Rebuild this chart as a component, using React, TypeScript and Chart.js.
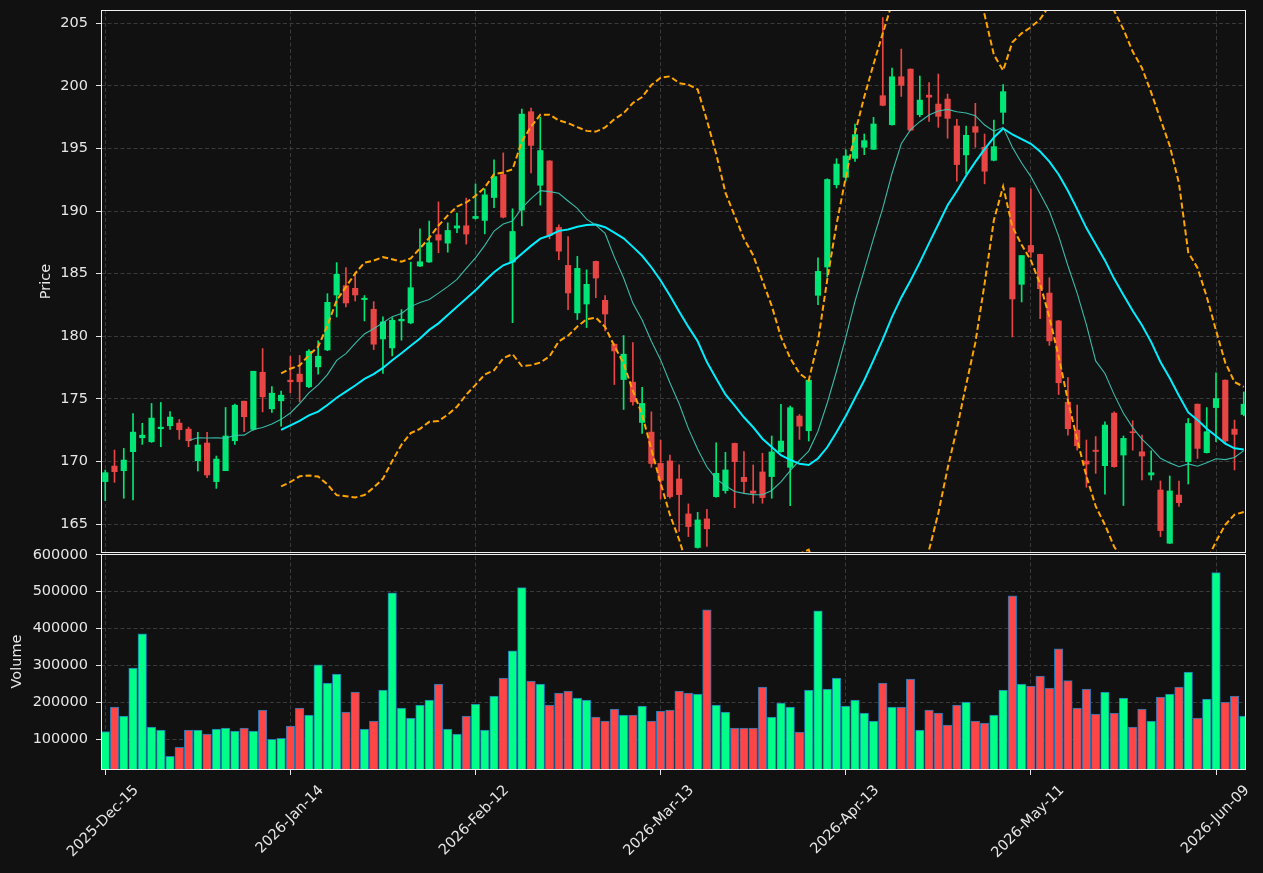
import React, { useEffect, useRef } from 'react';
import { Chart, registerables } from 'chart.js';

Chart.register(...registerables);

const tickIndices = [0, 20, 40, 60, 80, 100, 120];
const tickLabels = ['2025-Dec-15', '2026-Jan-14', '2026-Feb-12', '2026-Mar-13', '2026-Apr-13', '2026-May-11', '2026-Jun-09'];
const priceTicks = [165, 170, 175, 180, 185, 190, 195, 200, 205];
const volumeTicks = [100000, 200000, 300000, 400000, 500000, 600000];

const opens = [
  168.40, 169.64, 169.27, 170.79, 171.90, 171.58, 172.62, 172.86, 173.07, 172.59,
  170.07, 171.48, 168.40, 169.27, 171.66, 174.82, 172.57, 177.13, 174.21, 174.85,
  176.50, 176.98, 175.97, 177.56, 178.91, 183.30, 184.04, 183.83, 182.93, 182.16,
  179.79, 179.07, 181.23, 181.07, 185.61, 185.93, 188.11, 187.44, 188.64, 188.82,
  189.41, 189.25, 191.08, 192.91, 185.93, 190.08, 197.93, 192.06, 194.00, 188.69,
  185.66, 181.87, 182.58, 185.98, 182.87, 179.37, 176.55, 176.34, 173.12, 172.35,
  169.85, 170.05, 168.61, 165.82, 163.14, 165.42, 167.20, 167.68, 171.45, 168.74,
  167.65, 169.17, 168.80, 170.79, 169.54, 173.63, 172.46, 183.27, 185.53, 192.10,
  192.70, 194.21, 195.09, 194.93, 199.21, 196.89, 200.72, 201.33, 197.69, 199.25,
  198.54, 198.94, 196.79, 194.48, 196.74, 195.09, 194.05, 197.88, 191.85, 184.15,
  187.25, 186.54, 183.45, 181.23, 174.74, 172.51, 170.04, 170.91, 169.67, 173.87,
  170.52, 172.38, 170.78, 168.93, 167.73, 163.48, 167.33, 169.99, 174.58, 170.71,
  174.31, 176.50, 172.59, 173.76,
];
const highs = [
  169.32, 170.92, 171.05, 173.84, 173.05, 174.64, 174.72, 174.00, 173.36, 172.75,
  172.33, 172.33, 170.44, 174.32, 174.58, 174.82, 177.21, 179.02, 175.99, 175.62,
  178.41, 178.47, 178.94, 179.63, 183.40, 185.88, 185.48, 185.05, 183.25, 182.77,
  181.55, 181.49, 182.13, 185.92, 188.58, 189.20, 190.73, 189.06, 189.83, 191.03,
  192.17, 191.77, 194.08, 194.64, 190.18, 198.14, 198.22, 197.48, 194.03, 188.90,
  187.97, 186.38, 185.31, 186.00, 183.25, 179.40, 180.06, 179.50, 175.92, 173.97,
  171.71, 170.52, 169.73, 166.62, 165.95, 166.19, 171.50, 170.74, 171.48, 170.79,
  169.73, 170.66, 172.04, 174.56, 174.43, 173.76, 176.50, 186.27, 192.58, 194.18,
  194.90, 196.95, 196.15, 197.48, 205.45, 201.41, 202.93, 201.35, 200.78, 200.26,
  200.94, 199.34, 197.32, 196.79, 198.60, 196.15, 197.27, 200.09, 191.87, 186.45,
  191.77, 186.56, 184.68, 181.28, 176.71, 174.50, 171.72, 172.00, 173.18, 173.97,
  172.04, 173.26, 172.11, 170.86, 168.45, 168.85, 168.45, 173.44, 174.60, 174.31,
  177.08, 176.52, 173.31, 175.56,
];
const lows = [
  166.88, 168.34, 167.07, 166.94, 171.37, 171.53, 171.18, 172.57, 171.77, 171.18,
  169.25, 168.72, 167.86, 169.27, 171.37, 172.38, 172.50, 173.97, 173.92, 172.83,
  175.49, 174.77, 175.90, 176.98, 178.85, 181.54, 182.34, 182.82, 181.23, 178.94,
  177.03, 178.44, 179.69, 181.00, 185.55, 185.90, 186.67, 186.72, 188.27, 187.36,
  189.35, 188.18, 190.26, 189.45, 181.09, 188.82, 193.05, 190.47, 187.78, 186.11,
  182.13, 181.34, 180.70, 183.09, 180.43, 176.15, 174.16, 174.50, 172.25, 169.54,
  167.02, 167.07, 164.42, 164.01, 163.09, 163.22, 167.15, 167.47, 166.31, 167.47,
  166.67, 166.67, 167.07, 170.75, 166.48, 171.77, 171.64, 182.52, 184.73, 191.84,
  192.40, 193.97, 194.50, 194.90, 198.40, 196.85, 199.15, 196.41, 197.53, 197.16,
  196.68, 195.81, 192.38, 192.97, 195.09, 192.17, 194.00, 196.95, 179.95, 182.74,
  186.30, 181.41, 179.28, 175.35, 172.11, 170.91, 167.95, 169.06, 167.39, 169.55,
  166.49, 170.91, 168.53, 168.53, 164.01, 163.45, 166.41, 168.21, 170.25, 170.68,
  171.58, 171.50, 169.33, 173.65,
];
const closes = [
  169.11, 169.19, 170.12, 172.35, 172.11, 173.47, 172.75, 173.55, 172.54, 171.66,
  171.32, 168.93, 170.20, 172.04, 174.50, 173.58, 177.21, 175.17, 175.46, 175.30,
  176.37, 176.37, 178.81, 178.41, 182.71, 184.95, 182.66, 183.30, 183.04, 179.37,
  181.15, 181.28, 181.36, 183.88, 185.95, 187.47, 187.68, 188.45, 188.82, 188.16,
  189.57, 191.29, 192.75, 189.51, 188.37, 197.74, 195.24, 194.83, 188.05, 186.80,
  183.46, 185.42, 184.15, 184.65, 181.78, 178.83, 178.57, 174.77, 174.64, 169.85,
  168.50, 167.20, 167.36, 164.81, 165.34, 164.63, 169.06, 169.33, 169.99, 168.40,
  167.47, 167.12, 170.77, 171.64, 174.30, 172.83, 176.50, 185.18, 192.52, 193.75,
  194.40, 196.10, 195.62, 196.95, 198.44, 200.72, 200.03, 196.46, 198.86, 199.09,
  197.56, 197.40, 193.71, 196.05, 196.29, 193.18, 195.14, 199.53, 182.98, 186.45,
  186.72, 183.80, 179.63, 176.29, 172.62, 171.26, 169.80, 170.81, 172.91, 169.59,
  171.85, 172.30, 170.44, 169.11, 164.49, 167.65, 166.72, 173.04, 171.05, 172.38,
  175.03, 171.64, 172.17, 174.58,
];
const volumes = [
  121000, 187000, 162600, 293200, 385700, 132700, 124500, 53700, 78200, 124500,
  124500, 113600, 127200, 129900, 121800, 129900, 121800, 178900, 100000, 102700,
  135400, 184400, 165300, 301400, 252400, 276900, 173500, 227900, 127200, 149000,
  233300, 497300, 184400, 157100, 192500, 206100, 249700, 127200, 113600, 162600,
  195200, 124500, 217000, 266000, 339400, 510900, 257800, 249700, 192500, 225200,
  230600, 211600, 206100, 159900, 149000, 181600, 165300, 165300, 189800, 149000,
  176200, 178900, 230600, 225200, 222400, 451000, 192500, 173500, 129900, 129900,
  129900, 241500, 159900, 198000, 187100, 119000, 233300, 448300, 236000, 266000,
  189800, 206100, 170700, 149000, 252400, 187100, 187100, 263300, 124500, 178900,
  170700, 138100, 192500, 200700, 149000, 143500, 165300, 233300, 489100, 249700,
  244200, 271400, 238800, 344900, 259100, 184400, 236000, 168000, 227900, 170700,
  211600, 132700, 181600, 149000, 214300, 222400, 241500, 282300, 157100, 208800,
  551700, 200700, 217000, 162600,
];

const BG = '#111111';
const TEXT = '#e6e6e6';
const GRID = '#3a3a3a';
const UP = '#00e676';
const DOWN = '#e84545';
const VUP = '#00ff88';
const VDOWN = '#ff4545';

function sma(arr: number[], n: number): (number | null)[] {
  return arr.map((_, i) => {
    if (i < n - 1) return null;
    let s = 0;
    for (let k = i - n + 1; k <= i; k++) s += arr[k];
    return s / n;
  });
}
function rollingStd(arr: number[], n: number): (number | null)[] {
  const m = sma(arr, n);
  return arr.map((_, i) => {
    const mean = m[i];
    if (mean === null) return null;
    let s = 0;
    for (let k = i - n + 1; k <= i; k++) s += (arr[k] - mean) ** 2;
    return Math.sqrt(s / n);
  });
}

const framePlugin = {
  id: 'frame',
  afterDraw(chart: any) {
    const { ctx, chartArea, scales } = chart;
    const p = scales.y;
    const v = scales.yVol;
    ctx.save();
    ctx.strokeStyle = '#f0f0f0';
    ctx.lineWidth = 1;
    const l = Math.round(chartArea.left) + 0.5;
    const r = Math.round(chartArea.right) - 0.5;
    ctx.strokeRect(l, Math.round(p.top) + 0.5, r - l, Math.round(p.bottom) - Math.round(p.top) - 1);
    ctx.strokeRect(l, Math.round(v.top) + 1.5, r - l, Math.round(v.bottom) - Math.round(v.top) - 2);
    ctx.restore();
  },
};

export default function App() {
  const ref = useRef<HTMLCanvasElement | null>(null);
  useEffect(() => {
    if (!ref.current) return;
    const idx = closes.map((_, i) => i);
    const isUp = idx.map((i) => closes[i] >= opens[i]);
    const ma10 = sma(closes, 10);
    const ma20 = sma(closes, 20);
    const sd20 = rollingStd(closes, 20);
    const upper = ma20.map((m, i) => (m === null ? null : m + 2 * (sd20[i] as number)));
    const lower = ma20.map((m, i) => (m === null ? null : m - 2 * (sd20[i] as number)));
    const font = { family: 'DejaVu Sans', size: 14.5 };
    const toPts = (a: (number | null)[]) => a.map((y, i) => ({ x: i, y }));

    const chart = new Chart(ref.current, {
      type: 'bar',
      data: {
        datasets: [
          {
            type: 'line', label: 'MA10', data: toPts(ma10), yAxisID: 'y',
            borderColor: 'rgba(60,205,185,0.9)', borderWidth: 1.1, pointRadius: 0, order: 0,
          } as any,
          {
            type: 'line', label: 'MA20', data: toPts(ma20), yAxisID: 'y',
            borderColor: '#00eeff', borderWidth: 2, pointRadius: 0, order: 0,
          } as any,
          {
            type: 'line', label: 'Upper', data: toPts(upper), yAxisID: 'y',
            borderColor: '#ffa500', borderWidth: 2, borderDash: [6, 3], pointRadius: 0, order: 0,
          } as any,
          {
            type: 'line', label: 'Lower', data: toPts(lower), yAxisID: 'y',
            borderColor: '#ffa500', borderWidth: 2, borderDash: [6, 3], pointRadius: 0, order: 0,
          } as any,
          {
            type: 'bar', label: 'Wick', data: idx.map((i) => ({ x: i, y: [lows[i], highs[i]] })), yAxisID: 'y',
            backgroundColor: idx.map((i) => (isUp[i] ? UP : DOWN)), grouped: false,
            categoryPercentage: 1, barPercentage: 1, maxBarThickness: 1, order: 3,
          } as any,
          {
            type: 'bar', label: 'Body', data: idx.map((i) => ({ x: i, y: [opens[i], closes[i]] })), yAxisID: 'y',
            backgroundColor: idx.map((i) => (isUp[i] ? UP : DOWN)), grouped: false, minBarLength: 1,
            categoryPercentage: 1, barPercentage: 1, maxBarThickness: 5.5, order: 2,
          } as any,
          {
            type: 'bar', label: 'Volume', data: idx.map((i) => ({ x: i, y: volumes[i] })), yAxisID: 'yVol',
            backgroundColor: idx.map((i) => (isUp[i] ? VUP : VDOWN)), borderColor: '#1f77b4', borderWidth: 1,
            borderSkipped: 'start', grouped: false, categoryPercentage: 1, barPercentage: 1, maxBarThickness: 8.6, order: 2,
          } as any,
        ],
      },
      options: {
        animation: false,
        responsive: false,
        layout: { padding: { left: 0, top: 10, right: 17, bottom: 0 } },
        plugins: { legend: { display: false }, tooltip: { enabled: false } },
        scales: {
          x: {
            type: 'linear', min: -0.46, max: 123.24, offset: false,
            afterBuildTicks: (s: any) => { s.ticks = tickIndices.map((v) => ({ value: v })); },
            afterFit: (s: any) => { s.height = 103; s.paddingLeft = 0; s.paddingRight = 0; },
            ticks: {
              autoSkip: false, maxRotation: 45, minRotation: 45, color: TEXT, font, padding: 7, labelOffset: 31,
              callback: (v: any) => { const k = tickIndices.indexOf(Number(v)); return k >= 0 ? tickLabels[k] : ''; },
            },
            grid: { color: GRID, lineWidth: 1, offset: false, tickColor: TEXT, tickLength: 5, tickBorderDash: [], tickWidth: 1 },
            border: { display: false, dash: [4, 2.5] },
          },
          yVol: {
            type: 'linear', position: 'left', stack: 'panels', stackWeight: 217, min: 16500, max: 605000,
            afterBuildTicks: (s: any) => { s.ticks = volumeTicks.map((v) => ({ value: v })); },
            afterFit: (s: any) => { s.width = 101; s.paddingTop = 0; s.paddingBottom = 0; },
            ticks: { color: TEXT, font, padding: 8, callback: (v: any) => String(v) },
            grid: { color: GRID, lineWidth: 1, tickColor: TEXT, tickLength: 5, tickBorderDash: [], tickWidth: 1 },
            border: { display: false, dash: [4, 2.5] },
            title: { display: true, text: 'Volume', color: TEXT, font, padding: { top: 9, bottom: 0 } },
          },
          y: {
            type: 'linear', position: 'left', stack: 'panels', stackWeight: 543, min: 162.7, max: 206.05,
            afterBuildTicks: (s: any) => { s.ticks = priceTicks.map((v) => ({ value: v })); },
            afterFit: (s: any) => { s.width = 101; s.paddingTop = 0; s.paddingBottom = 0; },
            ticks: { color: TEXT, font, padding: 8, callback: (v: any) => String(v) },
            grid: { color: GRID, lineWidth: 1, tickColor: TEXT, tickLength: 5, tickBorderDash: [], tickWidth: 1 },
            border: { display: false, dash: [4, 2.5] },
            title: { display: true, text: 'Price', color: TEXT, font, padding: { top: 38, bottom: 0 } },
          },
        },
      } as any,
      plugins: [framePlugin],
    });
    return () => chart.destroy();
  }, []);

  return (
    <div style={{ position: 'fixed', left: 0, top: 0, width: '100vw', height: '100vh', background: BG, overflow: 'hidden' }}>
      <canvas ref={ref} width={1263} height={873} style={{ position: 'absolute', left: 0, top: 0, width: 1263, height: 873 }} />
    </div>
  );
}
